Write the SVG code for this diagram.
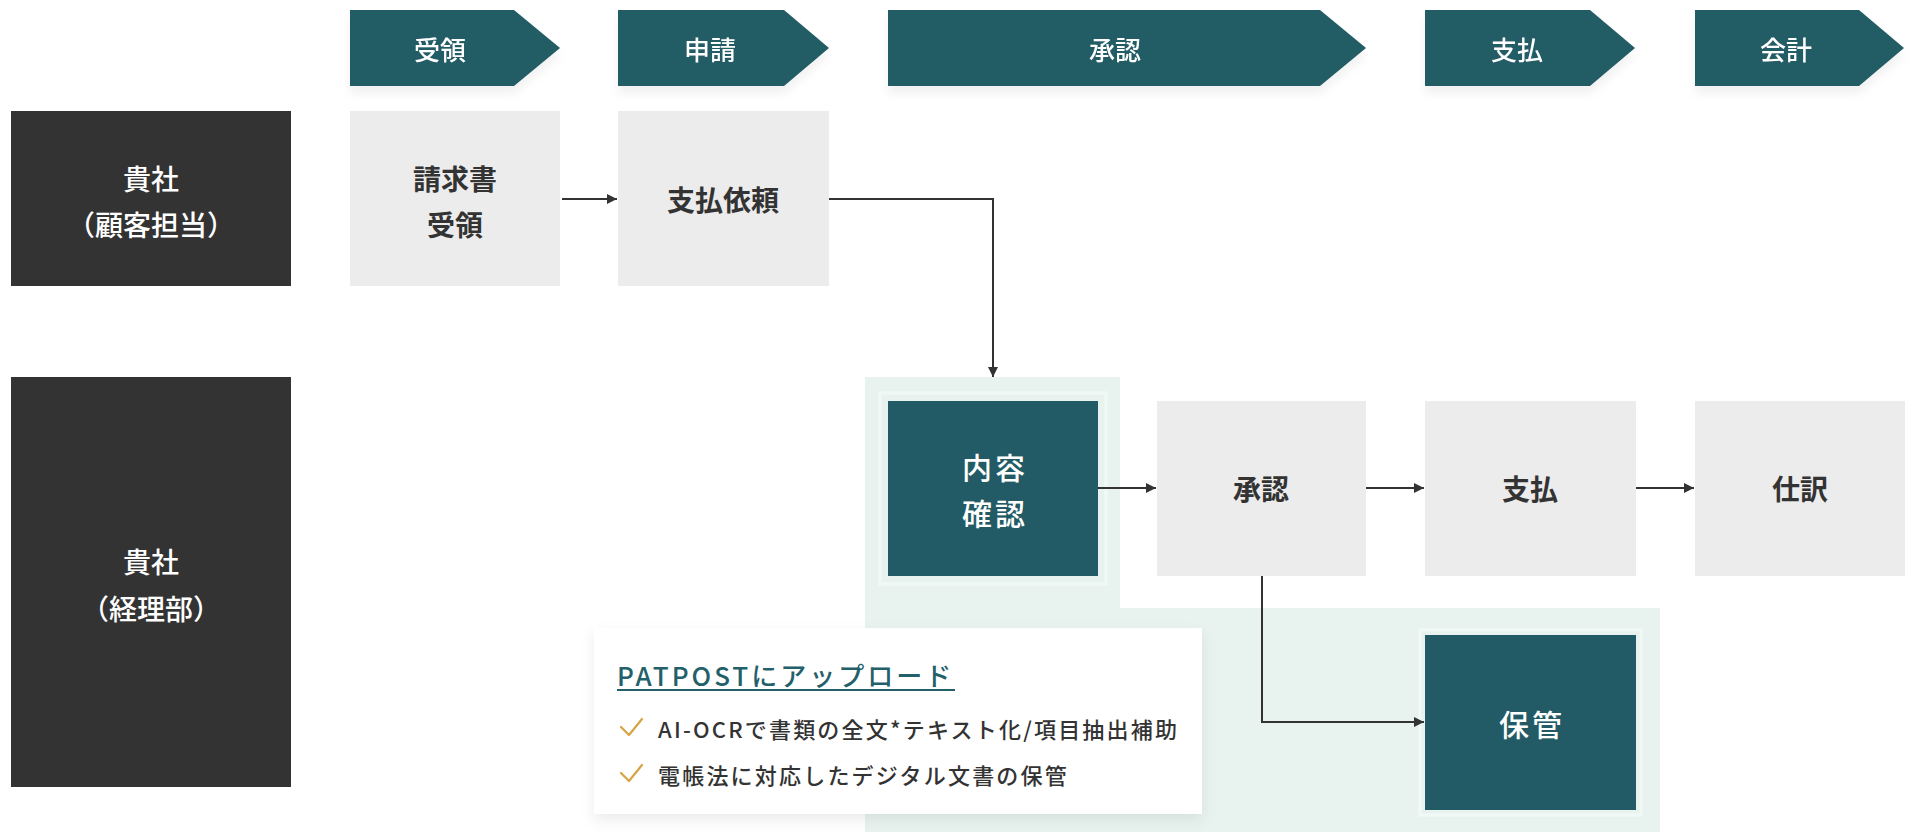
<svg xmlns="http://www.w3.org/2000/svg" width="1910" height="832" viewBox="0 0 1910 832">
<style>
  text { font-family: "Noto Sans CJK JP", "Noto Sans", sans-serif; dominant-baseline: central; text-anchor: middle; }
  .hdr { fill: #225b65; }
  .hdrt { fill: #ffffff; font-size: 26px; font-weight: 500; }
  .lane { fill: #333333; }
  .lanet { fill: #ffffff; font-size: 28px; font-weight: 500; }
  .box { fill: #ececec; }
  .boxt { fill: #333333; font-size: 28px; font-weight: 700; }
  .dbox { fill: #225b65; }
  .halo { fill: none; stroke: #f1f9f6; stroke-width: 3; }
  .dboxt { fill: #ffffff; font-size: 30px; font-weight: 500; letter-spacing: 3px; }
  .conn { fill: none; stroke: #333333; stroke-width: 2; }
  .item { fill: #333333; font-size: 22px; font-weight: 500; text-anchor: start; letter-spacing: 2.2px; }
  .check { fill: none; stroke: #d6a444; stroke-width: 2.2; stroke-linecap: round; stroke-linejoin: round; }
</style>
<defs>
  <marker id="ah" viewBox="0 0 10 10" refX="10" refY="5" markerWidth="10" markerHeight="10" markerUnits="userSpaceOnUse" orient="auto">
    <path d="M0,0 L10,5 L0,10 z" fill="#333333"/>
  </marker>
  <filter id="sh" x="-10%" y="-20%" width="120%" height="150%">
    <feDropShadow dx="0" dy="6" stdDeviation="7" flood-color="#000000" flood-opacity="0.08"/>
  </filter>
  <filter id="hsh" x="-5%" y="-10%" width="110%" height="140%">
    <feDropShadow dx="0" dy="8" stdDeviation="4" flood-color="#000000" flood-opacity="0.05"/>
  </filter>
</defs>
<rect width="1910" height="832" fill="#ffffff"/>

<!-- highlight background -->
<polygon id="highlight" points="865,377 1120,377 1120,608 1660,608 1660,832 865,832" fill="#e8f3ef"/>

<!-- headers -->
<g id="hdr-juryo" filter="url(#hsh)">
  <polygon class="hdr" points="350,10 514,10 560,48 514,86 350,86"/>
  <text class="hdrt" x="440" y="48">受領</text>
</g>
<g id="hdr-shinsei" filter="url(#hsh)">
  <polygon class="hdr" points="618,10 784,10 829,48 784,86 618,86"/>
  <text class="hdrt" x="710" y="48">申請</text>
</g>
<g id="hdr-shonin" filter="url(#hsh)">
  <polygon class="hdr" points="888,10 1320,10 1366,48 1320,86 888,86"/>
  <text class="hdrt" x="1115" y="48">承認</text>
</g>
<g id="hdr-shiharai" filter="url(#hsh)">
  <polygon class="hdr" points="1425,10 1590,10 1635,48 1590,86 1425,86"/>
  <text class="hdrt" x="1517" y="48">支払</text>
</g>
<g id="hdr-kaikei" filter="url(#hsh)">
  <polygon class="hdr" points="1695,10 1859,10 1904,48 1859,86 1695,86"/>
  <text class="hdrt" x="1786" y="48">会計</text>
</g>

<!-- lanes -->
<g id="lane-customer">
  <rect class="lane" x="11" y="111" width="280" height="175"/>
  <text class="lanet" x="151" y="178">貴社</text>
  <text class="lanet" x="151" y="224">（顧客担当）</text>
</g>
<g id="lane-accounting">
  <rect class="lane" x="11" y="377" width="280" height="410"/>
  <text class="lanet" x="151" y="561">貴社</text>
  <text class="lanet" x="151" y="608">（経理部）</text>
</g>

<!-- nodes -->
<g id="node-invoice">
  <rect class="box" x="350" y="111" width="210" height="175"/>
  <text class="boxt" x="455" y="178">請求書</text>
  <text class="boxt" x="455" y="224">受領</text>
</g>
<g id="node-request">
  <rect class="box" x="618" y="111" width="211" height="175"/>
  <text class="boxt" x="723" y="199">支払依頼</text>
</g>
<g id="node-check">
  <rect class="halo" x="880" y="393" width="226" height="191"/>
  <rect class="dbox" x="888" y="401" width="210" height="175"/>
  <text class="dboxt" x="995" y="466">内容</text>
  <text class="dboxt" x="995" y="512">確認</text>
</g>
<g id="node-approve">
  <rect class="box" x="1157" y="401" width="209" height="175"/>
  <text class="boxt" x="1261" y="488">承認</text>
</g>
<g id="node-pay">
  <rect class="box" x="1425" y="401" width="211" height="175"/>
  <text class="boxt" x="1530" y="488">支払</text>
</g>
<g id="node-journal">
  <rect class="box" x="1695" y="401" width="210" height="175"/>
  <text class="boxt" x="1800" y="488">仕訳</text>
</g>
<g id="node-store">
  <rect class="halo" x="1420" y="630" width="221" height="185"/>
  <rect class="dbox" x="1425" y="635" width="211" height="175"/>
  <text class="dboxt" x="1532" y="723">保管</text>
</g>

<!-- card -->
<g id="card-patpost">
  <rect x="594" y="628" width="608" height="186" fill="#ffffff" filter="url(#sh)"/>
  <text x="617" y="674" style="fill:#23606a;font-size:26px;font-weight:500;text-anchor:start;letter-spacing:3px">PATPOSTにアップロード</text>
  <line x1="617" y1="690" x2="955" y2="690" stroke="#23606a" stroke-width="2"/>
  <polyline class="check" points="621,727 629,735 642,719"/>
  <text class="item" x="658" y="728">AI-OCRで書類の全文*テキスト化/項目抽出補助</text>
  <polyline class="check" points="621,773 629,781 642,765"/>
  <text class="item" x="658" y="774">電帳法に対応したデジタル文書の保管</text>
</g>

<!-- connectors -->
<g id="connectors">
  <line class="conn" x1="562" y1="199" x2="617" y2="199" marker-end="url(#ah)"/>
  <polyline class="conn" points="829,199 993,199 993,377" marker-end="url(#ah)"/>
  <line class="conn" x1="1098" y1="488" x2="1156" y2="488" marker-end="url(#ah)"/>
  <line class="conn" x1="1366" y1="488" x2="1424" y2="488" marker-end="url(#ah)"/>
  <line class="conn" x1="1636" y1="488" x2="1694" y2="488" marker-end="url(#ah)"/>
  <polyline class="conn" points="1262,576 1262,722 1424,722" marker-end="url(#ah)"/>
</g>
</svg>
